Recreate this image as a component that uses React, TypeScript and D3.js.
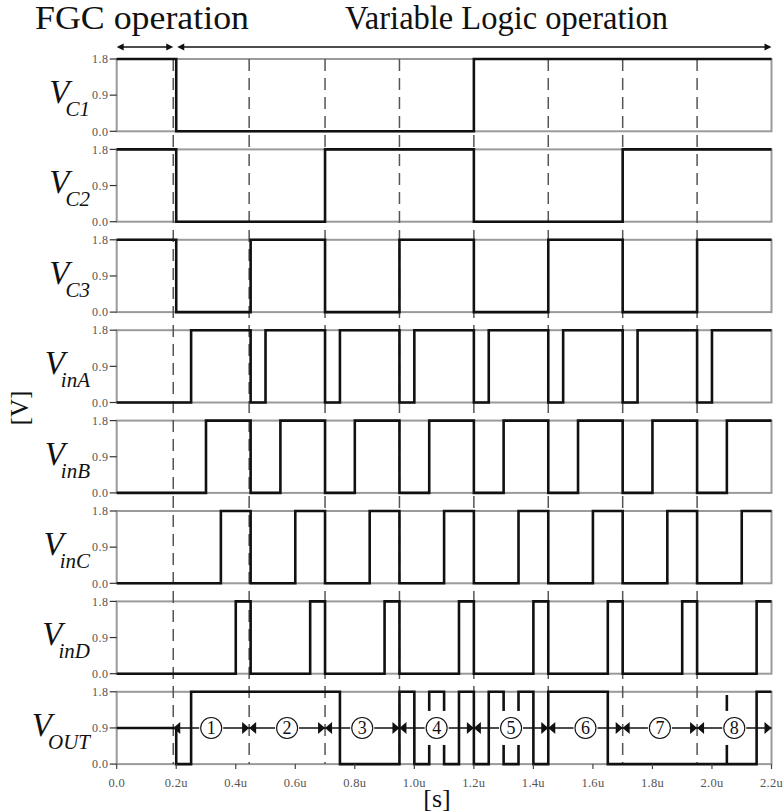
import React from "react";
import * as d3 from "d3";

// step waveforms: [time in us, level in V], level holds until the next point
const VC1 = [[0, 1.8], [0.2, 0], [1.2, 1.8]];
const VC2 = [[0, 1.8], [0.2, 0], [0.7, 1.8], [1.2, 0], [1.7, 1.8]];
const VC3 = [[0, 1.8], [0.2, 0], [0.45, 1.8], [0.7, 0], [0.95, 1.8], [1.2, 0], [1.45, 1.8], [1.7, 0], [1.95, 1.8]];
const VINA = [[0, 0], [0.25, 1.8], [0.45, 0], [0.5, 1.8], [0.7, 0], [0.75, 1.8], [0.95, 0], [1.0, 1.8], [1.2, 0], [1.25, 1.8], [1.45, 0], [1.5, 1.8], [1.7, 0], [1.75, 1.8], [1.95, 0], [2.0, 1.8]];
const VINB = [[0, 0], [0.3, 1.8], [0.45, 0], [0.55, 1.8], [0.7, 0], [0.8, 1.8], [0.95, 0], [1.05, 1.8], [1.2, 0], [1.3, 1.8], [1.45, 0], [1.55, 1.8], [1.7, 0], [1.8, 1.8], [1.95, 0], [2.05, 1.8]];
const VINC = [[0, 0], [0.35, 1.8], [0.45, 0], [0.6, 1.8], [0.7, 0], [0.85, 1.8], [0.95, 0], [1.1, 1.8], [1.2, 0], [1.35, 1.8], [1.45, 0], [1.6, 1.8], [1.7, 0], [1.85, 1.8], [1.95, 0], [2.1, 1.8]];
const VIND = [[0, 0], [0.4, 1.8], [0.45, 0], [0.65, 1.8], [0.7, 0], [0.9, 1.8], [0.95, 0], [1.15, 1.8], [1.2, 0], [1.4, 1.8], [1.45, 0], [1.65, 1.8], [1.7, 0], [1.9, 1.8], [1.95, 0], [2.15, 1.8]];
const VOUT = [[0, 0.9], [0.2, 0], [0.25, 1.8], [0.75, 0], [0.95, 1.8], [1.0, 0], [1.05, 1.8], [1.1, 0], [1.15, 1.8], [1.2, 0], [1.25, 1.8], [1.3, 0], [1.35, 1.8], [1.4, 0], [1.45, 1.8], [1.65, 0], [2.15, 1.8]];
const VOUT_GLITCH = [2.05];

const signals = [VC1, VC2, VC3, VINA, VINB, VINC, VIND, VOUT];
const subNames = ["C1", "C2", "C3", "inA", "inB", "inC", "inD", "OUT"];

const timeTicks = [0, 0.2, 0.4, 0.6, 0.8, 1.0, 1.2, 1.4, 1.6, 1.8, 2.0, 2.2];
const timeLabels = ["0.0", "0.2u", "0.4u", "0.6u", "0.8u", "1.0u", "1.2u", "1.4u", "1.6u", "1.8u", "2.0u", "2.2u"];
const voltTicks = [0, 0.9, 1.8];
const voltLabels = ["0.0", "0.9", "1.8"];

const fgcEnd = 0.19;
const phaseBounds = [0.19, 0.445, 0.7, 0.95, 1.2, 1.45, 1.7, 1.95, 2.2];
const phaseLabels = ["1", "2", "3", "4", "5", "6", "7", "8"];

const W = 783;
const H = 812;
const FONT = "Liberation Serif";

const x = d3.scaleLinear().domain([0, 2.2]).range([116.7, 771.5]);
const panelTop = (i) => 59 + i * 90.4;
const panelH = 72.3;

const App = () => {
  const panels = signals.map((sig, i) => {
    const top = panelTop(i);
    const y = d3.scaleLinear().domain([0, 1.8]).range([top + panelH, top]);
    const line = d3
      .line()
      .x((d) => x(d[0]))
      .y((d) => y(d[1]))
      .curve(d3.curveStepAfter);
    const pts = [...sig, [2.2, sig[sig.length - 1][1]]];
    return { top, y, path: line(pts), i };
  });

  const outY = panels[7].y;
  const arrowY = outY(0.9);
  const tri = (tipX, dir, cy, len = 7, half = 6) =>
    `M${tipX},${cy} L${tipX - dir * len},${cy - half} L${tipX - dir * len},${cy + half} Z`;

  const dashTop = panelTop(0);
  const dashBottom = panelTop(7) + panelH;

  return (
    <svg
      width={W}
      height={H}
      style={{ position: "absolute", left: 0, top: 0, background: "#fff" }}
      fontFamily={FONT}
    >
      <rect width={W} height={H} fill="#fff" />

      {/* header */}
      <text x={35} y={29} fontSize={33} textLength={214} lengthAdjust="spacingAndGlyphs" fill="#111">
        FGC operation
      </text>
      <text x={345} y={29} fontSize={33} textLength={323} lengthAdjust="spacingAndGlyphs" fill="#111">
        Variable Logic operation
      </text>
      <g stroke="#111" strokeWidth={1.5}>
        <line x1={x(0) + 4} x2={x(fgcEnd) - 4} y1={47} y2={47} />
        <line x1={x(fgcEnd) + 8} x2={x(2.2) - 4} y1={47} y2={47} />
      </g>
      <g fill="#111">
        <path d={tri(x(0), -1, 47, 7, 3.5)} />
        <path d={tri(x(fgcEnd), 1, 47, 7, 3.5)} />
        <path d={tri(x(fgcEnd) + 4, -1, 47, 7, 3.5)} />
        <path d={tri(x(2.2), 1, 47, 7, 3.5)} />
      </g>

      {/* panel frames, y ticks, labels */}
      {panels.map(({ top, y, i }) => (
        <g key={"f" + i}>
          <rect
            x={x(0)}
            y={top}
            width={x(2.2) - x(0)}
            height={panelH}
            fill="none"
            stroke="#9a9a9a"
            strokeWidth={2}
          />
          {voltTicks.map((v, k) => (
            <g key={k}>
              <line x1={x(0) - 7} x2={x(0)} y1={y(v)} y2={y(v)} stroke="#333" strokeWidth={1.2} />
              <text
                x={x(0) - 8}
                y={y(v)}
                dy="0.35em"
                textAnchor="end"
                fontSize={12}
                letterSpacing={0.6}
                fill="#555"
              >
                {voltLabels[k]}
              </text>
            </g>
          ))}
          <text x={90} y={top + 44} textAnchor="end" fontStyle="italic" fill="#111">
            <tspan fontSize={33}>V</tspan>
            <tspan fontSize={21} dx={-4} dy={13}>
              {subNames[i]}
            </tspan>
          </text>
        </g>
      ))}

      {/* phase boundaries */}
      {phaseBounds.slice(0, 8).map((t, k) => (
        <line
          key={"d" + k}
          x1={x(t)}
          x2={x(t)}
          y1={dashTop}
          y2={dashBottom}
          stroke="#555"
          strokeWidth={1.5}
          strokeDasharray="12,7"
        />
      ))}

      {/* waveforms */}
      {panels.map(({ path, i }) => (
        <path key={"s" + i} d={path} fill="none" stroke="#111" strokeWidth={2.6} />
      ))}
      {VOUT_GLITCH.map((t, k) => (
        <line
          key={"g" + k}
          x1={x(t)}
          x2={x(t)}
          y1={outY(1.72)}
          y2={outY(0)}
          stroke="#111"
          strokeWidth={2.6}
        />
      ))}

      {/* phase arrows */}
      <line x1={x(phaseBounds[0])} x2={x(2.2)} y1={arrowY} y2={arrowY} stroke="#111" strokeWidth={1.5} />
      <g fill="#111">
        {phaseBounds.slice(0, 8).map((t, k) => (
          <g key={"a" + k}>
            <path d={tri(x(t), -1, arrowY)} />
            <path d={tri(x(phaseBounds[k + 1]), 1, arrowY)} />
          </g>
        ))}
      </g>
      {phaseLabels.map((lab, k) => {
        const cx = x((phaseBounds[k] + phaseBounds[k + 1]) / 2);
        return (
          <g key={"l" + k}>
            <rect x={cx - 12} y={arrowY - 17} width={24} height={34} fill="#fff" />
            <circle cx={cx} cy={arrowY} r={10.5} fill="#fff" stroke="#111" strokeWidth={1.1} />
            <text x={cx} y={arrowY} dy="0.35em" textAnchor="middle" fontSize={18} fill="#111">
              {lab}
            </text>
          </g>
        );
      })}

      {/* time axis */}
      {timeTicks.map((t, k) => (
        <g key={"t" + k}>
          <line x1={x(t)} x2={x(t)} y1={dashBottom} y2={dashBottom + 5} stroke="#444" strokeWidth={1.2} />
          <text x={x(t)} y={787} textAnchor="middle" fontSize={12.5} letterSpacing={0.3} fill="#555">
            {timeLabels[k]}
          </text>
        </g>
      ))}
      <text x={437} y={807} textAnchor="middle" fontSize={26} fill="#111">
        [s]
      </text>
      <text
        transform="translate(28,408) rotate(-90)"
        textAnchor="middle"
        fontSize={25}
        fill="#111"
      >
        [V]
      </text>
    </svg>
  );
};

export default App;
